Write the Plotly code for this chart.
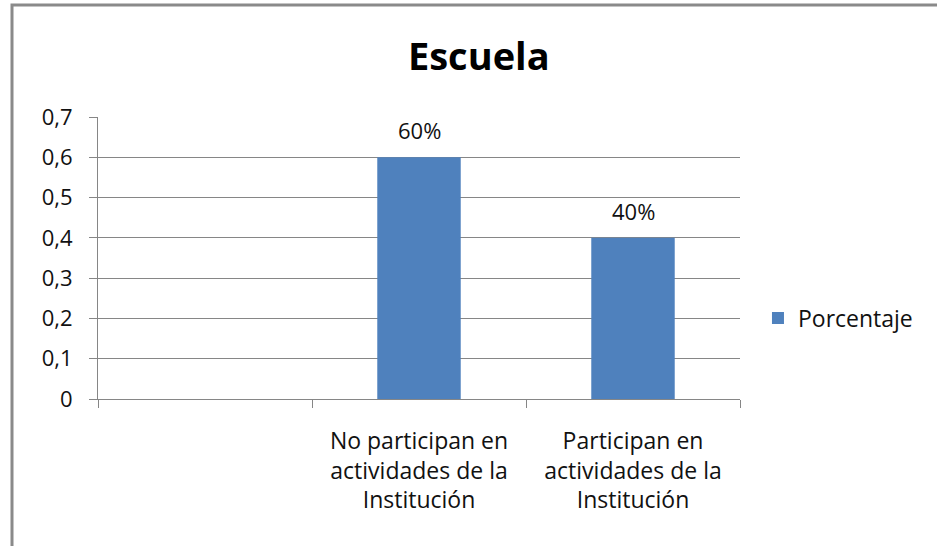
import plotly.graph_objects as go

categories = [" ", "No participan en<br>actividades de la<br>Institución", "Participan en<br>actividades de la<br>Institución"]
values = [None, 0.6, 0.4]
series_name = "Porcentaje"
y_tickvals = [0, 0.1, 0.2, 0.3, 0.4, 0.5, 0.6, 0.7]
y_ticktext = ["0", "0,1", "0,2", "0,3", "0,4", "0,5", "0,6", "0,7"]
title = "Escuela"

FONT = "Open Sans, sans-serif"
TXT = "#111111"

fig = go.Figure()
fig.add_trace(go.Bar(
    x=categories, y=values, name=series_name,
    marker=dict(color="#4F81BD", line=dict(width=0)),
    width=0.39,
))

for c, v in zip(categories, values):
    if v is None:
        continue
    fig.add_annotation(x=c, y=v, xref="x", yref="y", text=f"{round(v*100)}%",
                       showarrow=False, yanchor="bottom", yshift=10,
                       font=dict(size=22, color=TXT, family=FONT))

fig.update_layout(
    width=937, height=546,
    margin=dict(l=98, r=197, t=117, b=147),
    paper_bgcolor="white", plot_bgcolor="white",
    showlegend=True,
    title=dict(text="<b>" + title + "</b>", x=0.511, xanchor="center", y=0.897, yanchor="middle",
               font=dict(size=38, color="black", family=FONT)),
    legend=dict(x=1.028, y=0.287, xanchor="left", yanchor="middle",
                font=dict(size=23, color=TXT, family=FONT)),
    font=dict(family=FONT, size=22, color=TXT),
    xaxis=dict(type="category", tickson="boundaries", ticks="outside", ticklen=8,
               tickcolor="#868686", showline=True, linecolor="#868686", linewidth=1,
               showgrid=False, ticklabelstandoff=21,
               tickfont=dict(size=23, color=TXT, family=FONT)),
    yaxis=dict(range=[0, 0.7], tickvals=y_tickvals, ticktext=y_ticktext,
               ticks="outside", ticklen=8, tickcolor="#868686",
               showline=True, linecolor="#868686", linewidth=1,
               showgrid=True, gridcolor="#868686", gridwidth=1, zeroline=False,
               ticklabelstandoff=12,
               tickfont=dict(size=22, color=TXT, family=FONT)),
    bargap=0.61,
)

fig.add_shape(type="rect", xref="paper", yref="paper",
              x0=(12 - 98) / 642, x1=1.5, y0=-0.8, y1=(399 - 5) / 282,
              line=dict(color="#8a8a8a", width=3), fillcolor="rgba(0,0,0,0)", layer="below")

fig.write_html("out.html")
